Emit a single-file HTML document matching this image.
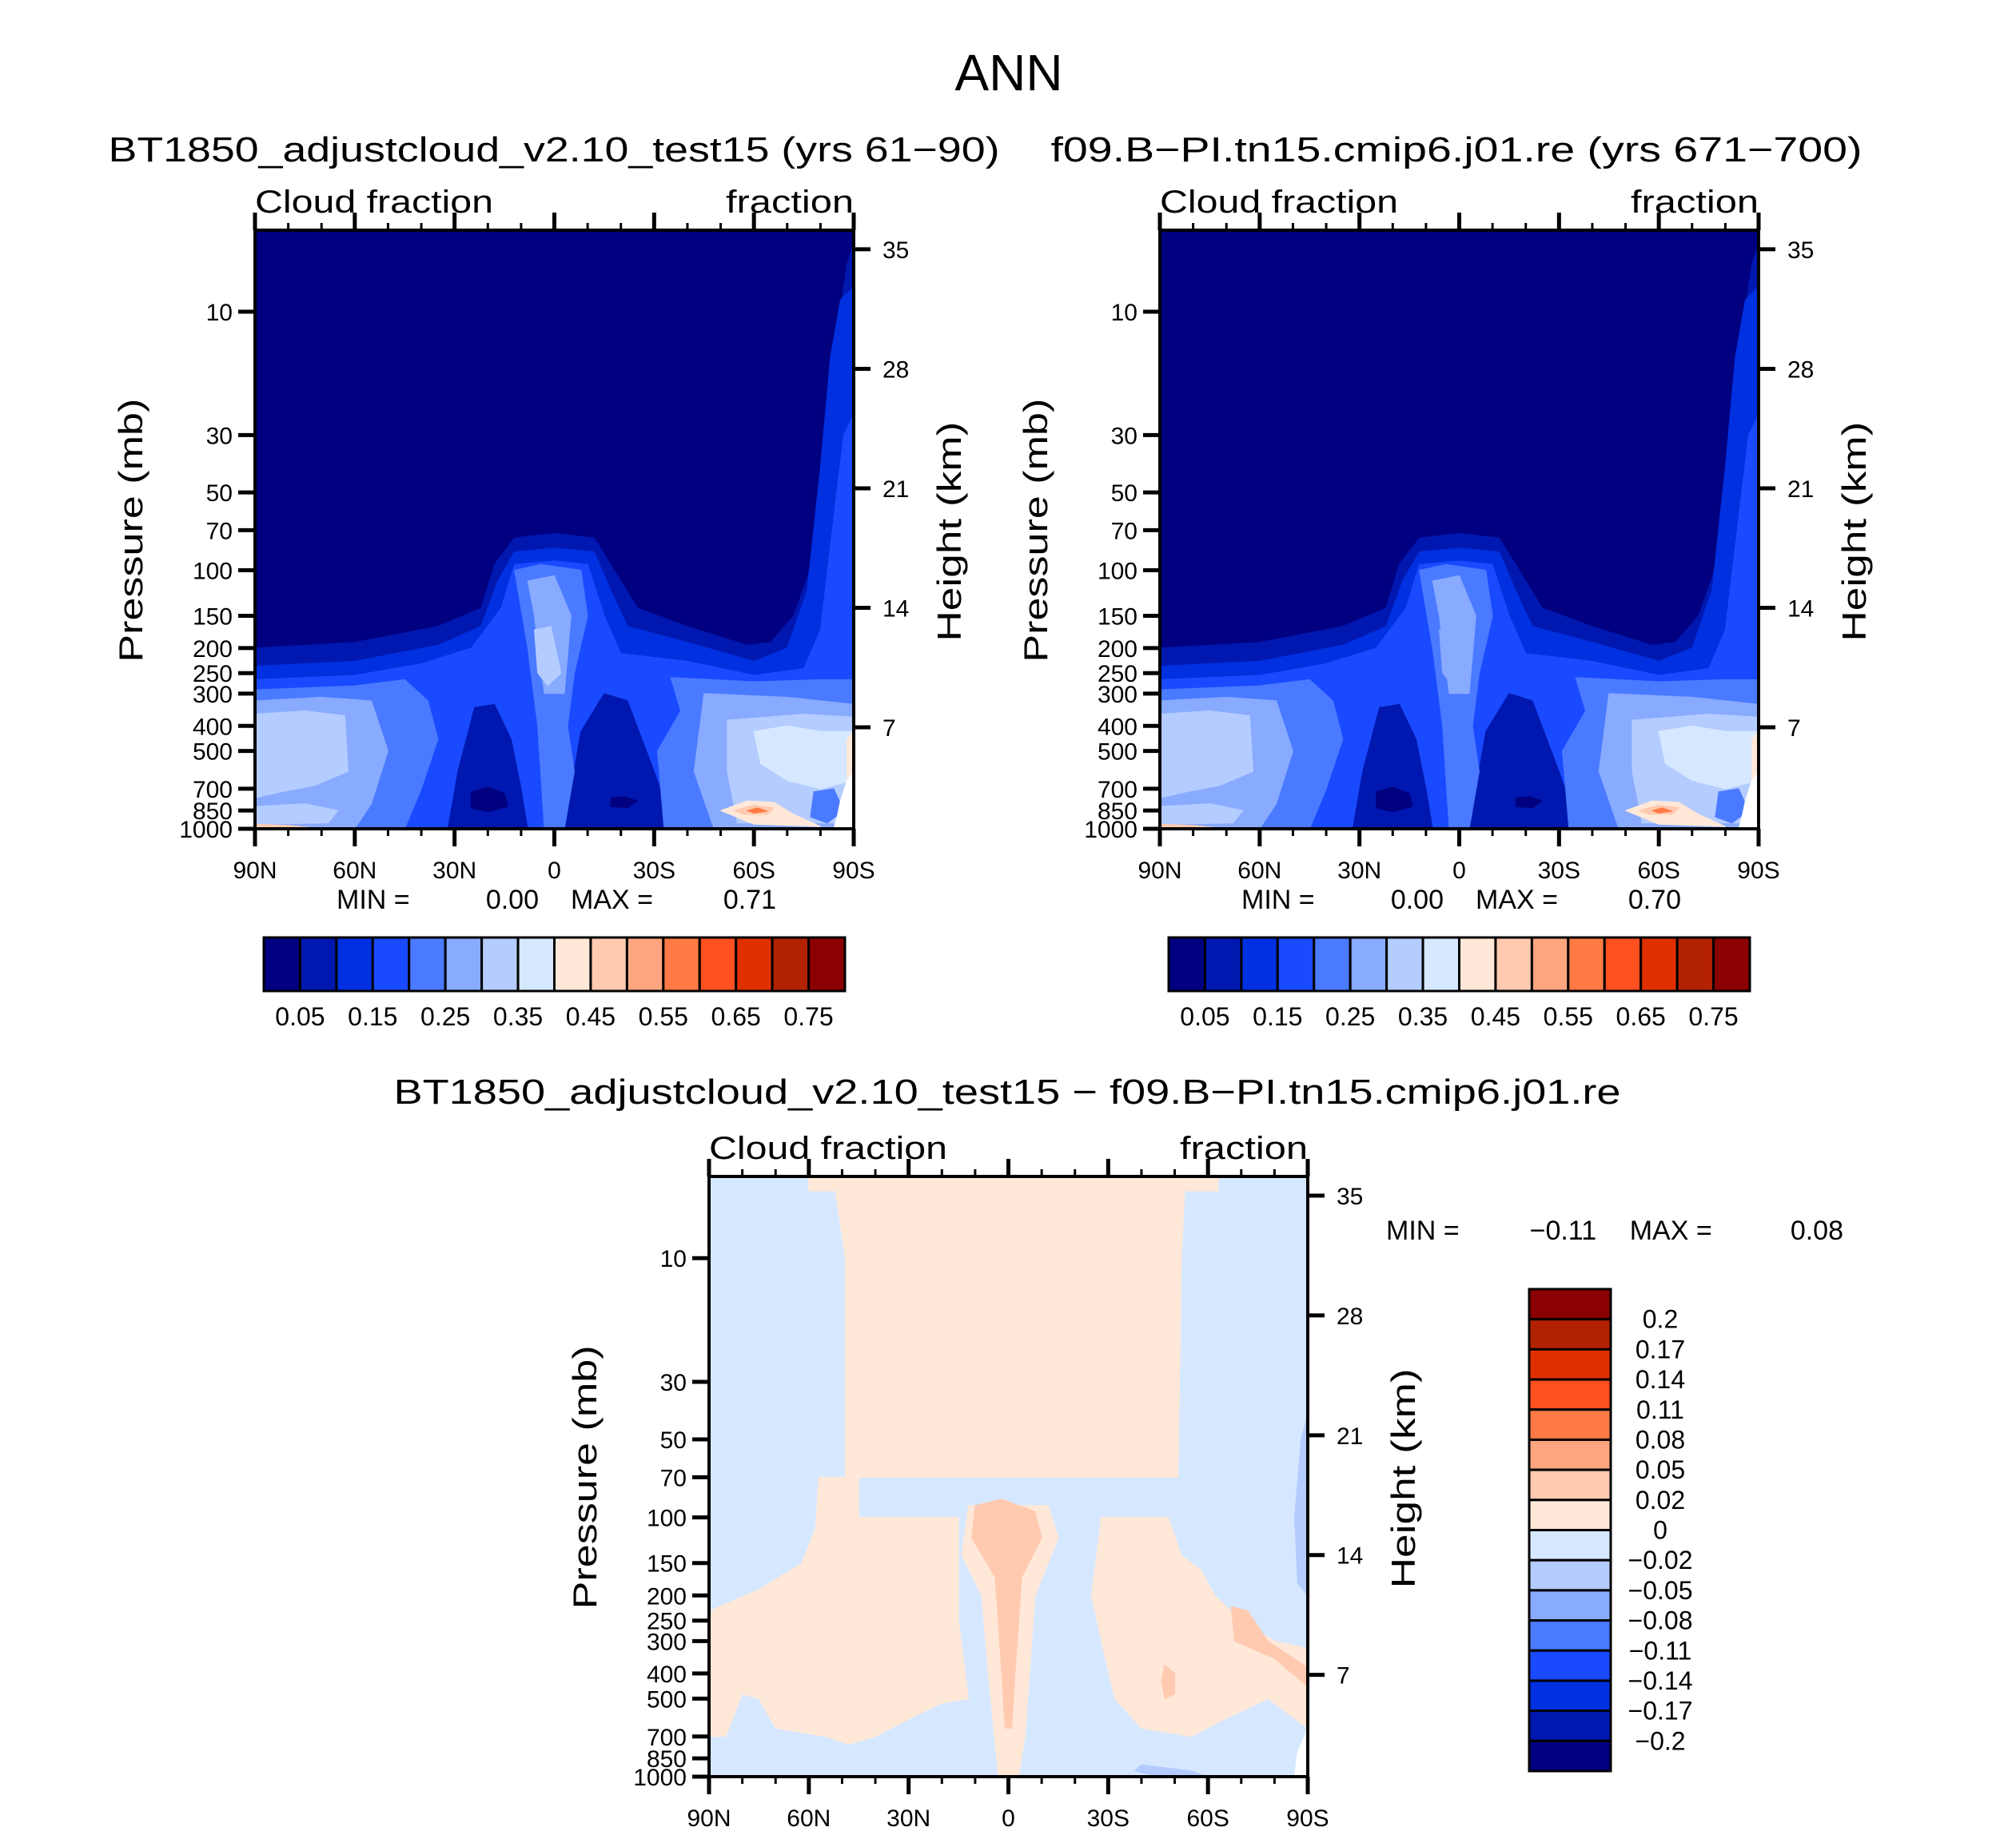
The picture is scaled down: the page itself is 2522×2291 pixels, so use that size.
<!DOCTYPE html>
<html><head><meta charset="utf-8">
<style>
html,body{margin:0;padding:0;background:#fff;}
svg{display:block;}
text{font-family:"Liberation Sans",sans-serif;fill:#000;}
</style></head>
<body>
<svg id="fig" width="2522" height="2291" viewBox="0 0 2522 2291" xmlns="http://www.w3.org/2000/svg">
<text x="1262" y="113" font-size="64" text-anchor="middle">ANN</text>
<text x="693" y="202" font-size="44" text-anchor="middle" textLength="1115" lengthAdjust="spacingAndGlyphs">BT1850_adjustcloud_v2.10_test15 (yrs 61−90)</text>
<text x="1822" y="202" font-size="44" text-anchor="middle" textLength="1015" lengthAdjust="spacingAndGlyphs">f09.B−PI.tn15.cmip6.j01.re (yrs 671−700)</text>
<text x="1260" y="1381" font-size="44" text-anchor="middle" textLength="1535" lengthAdjust="spacingAndGlyphs">BT1850_adjustcloud_v2.10_test15 − f09.B−PI.tn15.cmip6.j01.re</text>
<g id="p1"></g>
<g id="p2"></g>
<g id="p3"></g>
<g id="cb"></g>
</svg>
<script>
// ---- data ----
const cmap = ["#000080","#0018B0","#0030E0","#1A4AFF","#4A7AFF","#88AAFF","#B4CCFF","#D6E8FF","#FFE8D8","#FFCAB0","#FCA57F","#FF7A45","#FF5020","#E03000","#B22200","#8B0000"];
const cbLabels = ["0.05","0.15","0.25","0.35","0.45","0.55","0.65","0.75"];
const diffLabels = ["0.2","0.17","0.14","0.11","0.08","0.05","0.02","0","−0.02","−0.05","−0.08","−0.11","−0.14","−0.17","−0.2"];
const diffColors = ["#8B0000","#B22200","#E03000","#FF5020","#FF7A45","#FCA57F","#FFCAB0","#FFE8D8","#D6E8FF","#B4CCFF","#88AAFF","#4A7AFF","#1A4AFF","#0030E0","#0018B0","#000080"];
const pTicks = [10,30,50,70,100,150,200,250,300,400,500,700,850,1000];
const hTicks = [35,28,21,14,7];
const latTicks = [90,60,30,0,-30,-60,-90];
const latLabels = ["90N","60N","30N","0","30S","60S","90S"];
const minMax1 = ["0.00","0.71"];
const minMax2 = ["0.00","0.70"];
const minMax3 = ["−0.11","0.08"];

// cloud fraction layers: [lat, pressure]
const layer1 = [[90,200],[60,190],[35,165],[22,140],[18,95],[12,75],[0,72],[-12,75],[-18,100],[-25,140],[-40,165],[-58,195],[-65,190],[-72,150],[-78,90],[-82,30],[-85,12],[-88,6.5],[-90,5.5],[-90,1000],[90,1000]];
const layer2 = [[90,235],[60,225],[35,195],[22,165],[17,110],[12,85],[0,82],[-12,85],[-17,120],[-22,165],[-40,190],[-60,225],[-70,200],[-76,120],[-80,40],[-83,15],[-86,9],[-90,8],[-90,1000],[90,1000]];
const layer3 = [[90,265],[60,255],[40,230],[25,200],[16,140],[12,95],[0,92],[-10,95],[-15,150],[-20,210],[-40,225],[-60,255],[-75,240],[-80,170],[-83,80],[-87,30],[-90,25],[-90,1000],[90,1000]];
const blobN = [[32,1000],[29,600],[24,340],[18,330],[13,450],[10,700],[8,1000]];
const blobS = [[-3,1000],[-5,700],[-8,420],[-15,300],[-22,320],[-30,600],[-36,1000]];
const coreN = [[25,720],[20,690],[15,730],[14,820],[20,860],[25,830]];
const coreS = [[-17,760],[-21,750],[-25,780],[-22,830],[-17,820]];
const layer4L = [[90,290],[60,280],[45,265],[38,320],[35,450],[40,700],[45,1000],[90,1000]];
const layer4C = [[12,100],[4,95],[-8,100],[-10,150],[-6,250],[-4,400],[-6,600],[-3,1000],[3,1000],[5,400],[8,200]];
const layer4R = [[-35,260],[-60,270],[-80,265],[-90,265],[-90,1000],[-33,1000],[-31,500],[-38,350]];
const layer5L = [[90,320],[70,310],[55,320],[50,500],[55,800],[60,1000],[90,1000]];
const layer5R = [[-45,300],[-70,310],[-90,330],[-90,1000],[-48,1000],[-42,600]];
const layer5C = [[8,110],[0,105],[-5,150],[-3,300],[3,300],[6,150]];
const layer6L = [[90,360],[75,350],[63,365],[62,600],[72,680],[82,720],[90,760]];
const layer6L2 = [[90,820],[75,800],[65,850],[68,950],[90,960]];
const layer6R = [[-52,380],[-75,360],[-90,370],[-90,950],[-55,950],[-52,600]];
const layer6C = [[6,170],[1,165],[-2,250],[2,280],[5,250]];
const layer7R = [[-60,420],[-70,400],[-80,420],[-90,420],[-90,650],[-80,700],[-70,650],[-62,560]];
const layer5R2 = [[-78,720],[-84,700],[-87,850],[-82,950],[-77,900]];
const warm1 = [[-50,850],[-58,780],[-66,790],[-72,880],[-80,980],[-60,960]];
const warm2 = [[-54,850],[-60,810],[-66,830],[-64,880],[-57,880]];
const warm3 = [[-58,850],[-61,830],[-64,855],[-60,870]];
const warmN = [[90,960],[80,970],[70,1000],[90,1000]];
const warmE = [[-88,450],[-90,420],[-90,750],[-88,700]];
const missing = [[-86,780],[-88,650],[-90,600],[-90,1000],[-84,1000],[-85,900]];

// difference layers
const d_top = [[60,4.84],[-63,4.84],[-63,5.5],[-53,5.5],[-52,10],[-51,70],[49,70],[49,10],[52,5.5],[60,5.5]];
const d_left = [[57,70],[45,70],[45,100],[15,100],[15,250],[12,500],[20,520],[30,600],[40,700],[48,750],[55,700],[70,650],[75,500],[80,480],[85,700],[90,700],[90,230],[75,190],[62,150],[58,110]];
const d_col = [[12,90],[-12,90],[-15,120],[-8,200],[-5,700],[-3,1000],[3,1000],[6,400],[8,200],[14,140]];
const d_colRed = [[10,90],[2,85],[-8,95],[-10,120],[-4,170],[-2,400],[-1,650],[1,650],[2,400],[4,170],[11,120]];
const d_right = [[-28,100],[-48,100],[-52,140],[-58,160],[-62,200],[-70,250],[-80,300],[-90,320],[-90,650],[-78,500],[-65,600],[-55,700],[-40,650],[-32,500],[-28,300],[-25,200]];
const d_red1 = [[-67,220],[-72,230],[-78,300],[-90,380],[-90,450],[-80,350],[-68,300]];
const d_red2 = [[-47,370],[-50,400],[-50,480],[-47,500],[-46,430]];
const d_blueR = [[-88,50],[-90,40],[-90,200],[-87,180],[-86,100]];
const d_blueB = [[-40,900],[-55,950],[-60,1000],[-45,1000],[-38,950]];
const d_missing = [[-87,800],[-89,700],[-90,650],[-90,1000],[-86,1000]];

// ---- helpers ----
const NS = "http://www.w3.org/2000/svg";
function mk(tag, attrs, parent){const e=document.createElementNS(NS,tag);for(const k in attrs)e.setAttribute(k,attrs[k]);parent.appendChild(e);return e;}
function makeAxes(x0,y0,W,H){
  const lt=Math.log10(4.84);
  return {x:lat=>x0+(90-lat)/180*W, y:p=>y0+(Math.log10(p)-lt)/(3-lt)*H, h:km=>y0+H*(910-288-(km-7)*21.36)/749};
}
function poly(ax,pts,color,g,name){
  const d=pts.map(q=>ax.x(q[0]).toFixed(1)+","+ax.y(q[1]).toFixed(1)).join(" ");
  const e=mk("polygon",{points:d,fill:color,stroke:color,"stroke-width":"1","stroke-linejoin":"round"},g);
  
  
}
function frame(g,ax,x0,y0,W,H,pre){
  mk("rect",{x:x0,y:y0,width:W,height:H,fill:"none",stroke:"#000","stroke-width":"4"},g);
  for(let lat=90;lat>=-90;lat-=10){
    const major=(lat%30===0);const X=ax.x(lat);const L=major?22:9;
    mk("line",{x1:X,y1:y0+H,x2:X,y2:y0+H+L,stroke:"#000","stroke-width":major?5:3},g);
    mk("line",{x1:X,y1:y0,x2:X,y2:y0-L,stroke:"#000","stroke-width":major?5:3},g);
  }
  latTicks.forEach((lat,i)=>{
    const t=mk("text",{x:ax.x(lat),y:y0+H+62,"font-size":30,"text-anchor":"middle"},g);t.textContent=latLabels[i];
    
    
  });
  pTicks.forEach(p=>{
    const Y=ax.y(p);
    mk("line",{x1:x0-21,y1:Y,x2:x0,y2:Y,stroke:"#000","stroke-width":5},g);
    const t=mk("text",{x:x0-28,y:Y+11,"font-size":30,"text-anchor":"end"},g);t.textContent=p;
    
    
  });
  hTicks.forEach(h=>{
    const Y=ax.h(h);
    mk("line",{x1:x0+W,y1:Y,x2:x0+W+21,y2:Y,stroke:"#000","stroke-width":5},g);
    const t=mk("text",{x:x0+W+36,y:Y+11,"font-size":30},g);t.textContent=h;
    
    
  });
  let t=mk("text",{x:x0,y:y0-22,"font-size":40,textLength:298,lengthAdjust:"spacingAndGlyphs"},g);t.textContent="Cloud fraction";
  
  
  t=mk("text",{x:x0+W,y:y0-22,"font-size":40,"text-anchor":"end",textLength:160,lengthAdjust:"spacingAndGlyphs"},g);t.textContent="fraction";
  
  
  t=mk("text",{x:0,y:0,"font-size":42,"text-anchor":"middle",transform:`translate(${x0-141},${y0+H*0.372+97}) rotate(-90)`,textLength:330,lengthAdjust:"spacingAndGlyphs"},g);t.textContent="Pressure (mb)";
  
  
  t=mk("text",{x:0,y:0,"font-size":42,"text-anchor":"middle",transform:`translate(${x0+W+134},${y0+H*0.374+97}) rotate(-90)`,textLength:275,lengthAdjust:"spacingAndGlyphs"},g);t.textContent="Height (km)";
  
  
}
function minmax(g,x,y,vals,pre,sp){
  sp=sp||1;
  const parts=[["MIN =",x,"start"],[vals[0],x+253*sp,"end"],["MAX =",x+293*sp,"start"],[vals[1],x+550*sp,"end"]];
  parts.forEach(q=>{const t=mk("text",{x:q[1],y:y,"font-size":34,"text-anchor":q[2]},g);t.textContent=q[0];
    
    });
}
function cloudPanel(id,x0,pre,vals,variant){
  const g=document.getElementById(id);const y0=288,W=749,H=749;
  const ax=makeAxes(x0,y0,W,H);
  mk("rect",{x:x0,y:y0,width:W,height:H,fill:cmap[0]},g);
  poly(ax,layer1,cmap[1],g,pre+"-contour-0.05");
  poly(ax,layer2,cmap[2],g,pre+"-contour-0.10");
  poly(ax,layer3,cmap[3],g,pre+"-contour-0.15");
  poly(ax,blobN,cmap[1],g,pre+"-low-cloud-min-north");
  poly(ax,blobS,cmap[1],g,pre+"-low-cloud-min-south");
  poly(ax,coreN,cmap[0],g,pre+"-core-north");
  poly(ax,coreS,cmap[0],g,pre+"-core-south");
  poly(ax,layer4L,cmap[4],g,pre+"-contour-0.20-north");
  poly(ax,layer4C,cmap[4],g,pre+"-contour-0.20-tropics");
  poly(ax,layer4R,cmap[4],g,pre+"-contour-0.20-south");
  poly(ax,layer5L,cmap[5],g,pre+"-contour-0.25-north");
  poly(ax,layer5R,cmap[5],g,pre+"-contour-0.25-south");
  poly(ax,layer5C,cmap[5],g,pre+"-contour-0.25-tropics");
  poly(ax,layer6L,cmap[6],g,pre+"-contour-0.30-north");
  poly(ax,layer6L2,cmap[6],g,pre+"-contour-0.30-north-low");
  poly(ax,layer6R,cmap[6],g,pre+"-contour-0.30-south");
  poly(ax,layer6C,variant?cmap[5]:cmap[6],g,pre+"-contour-0.30-tropics");
  poly(ax,layer7R,cmap[7],g,pre+"-contour-0.35-south");
  poly(ax,layer5R2,cmap[4],g,pre+"-contour-antarctic-low");
  poly(ax,warm1,cmap[8],g,pre+"-contour-0.40");
  poly(ax,warm2,cmap[9],g,pre+"-contour-0.45");
  poly(ax,warm3,cmap[11],g,pre+"-contour-0.55");
  poly(ax,warmN,cmap[9],g,pre+"-arctic-surface-max");
  poly(ax,warmE,cmap[8],g,pre+"-antarctic-max");
  poly(ax,missing,"#ffffff",g,pre+"-missing-data");
  frame(g,ax,x0,y0,W,H,pre);
  minmax(g,x0+102,1137,vals,pre);
  // horizontal colorbar
  const cb=document.getElementById("cb");const cx=x0+11,cw=727,cy=1173,ch=67,bw=cw/cmap.length;
  cmap.forEach((c,i)=>{const r=mk("rect",{x:cx+i*bw,y:cy,width:bw,height:ch,fill:c,stroke:"#000","stroke-width":3},cb);
    
    });
  cbLabels.forEach((l,i)=>{const t=mk("text",{x:cx+(2*i+1)*bw,y:1283,"font-size":32,"text-anchor":"middle"},cb);t.textContent=l;
    
    });
}
cloudPanel("p1",319,"panel1",minMax1,false);
cloudPanel("p2",1451,"panel2",minMax2,true);

// difference panel
(function(){
  const g=document.getElementById("p3");const x0=887,y0=1472,W=749,H=751;
  const ax=makeAxes(x0,y0,W,H);
  mk("rect",{x:x0,y:y0,width:W,height:H,fill:"#D6E8FF"},g);
  poly(ax,d_top,"#FFE8D8",g,"diff-positive-stratosphere");
  poly(ax,d_left,"#FFE8D8",g,"diff-positive-north");
  poly(ax,d_col,"#FFE8D8",g,"diff-positive-equator");
  poly(ax,d_colRed,"#FFCAB0",g,"diff-contour-0.02-equator");
  poly(ax,d_right,"#FFE8D8",g,"diff-positive-south");
  poly(ax,d_red1,"#FFCAB0",g,"diff-contour-0.02-south");
  poly(ax,d_red2,"#FFCAB0",g,"diff-contour-0.02-midlat");
  poly(ax,d_blueR,"#B4CCFF",g,"diff-negative-polar-strat");
  poly(ax,d_blueB,"#B4CCFF",g,"diff-negative-surface");
  poly(ax,d_missing,"#ffffff",g,"diff-missing-data");
  frame(g,ax,x0,y0,W,H,"panel3");
  minmax(g,1734,1551,minMax3,"panel3",1.04);
  const cb=document.getElementById("cb");const cx=1913,cw=102,cy=1613,ch=603,bh=ch/diffColors.length;
  diffColors.forEach((c,i)=>{const r=mk("rect",{x:cx,y:cy+i*bh,width:cw,height:bh,fill:c,stroke:"#000","stroke-width":3},cb);
    
    });
  diffLabels.forEach((l,i)=>{const t=mk("text",{x:2077,y:cy+(i+1)*bh+11,"font-size":32,"text-anchor":"middle"},cb);t.textContent=l;
    
    });
})();
</script>
</body></html>
